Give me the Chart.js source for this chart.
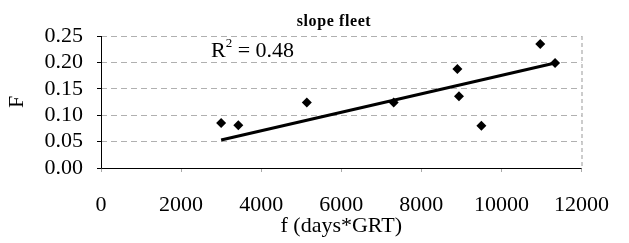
<!DOCTYPE html>
<html>
<head>
<meta charset="utf-8">
<script src="https://cdn.jsdelivr.net/npm/chart.js@4/dist/chart.umd.min.js"></script>
<style>
  html, body { margin: 0; padding: 0; background: #fff; }
  #wrap { width: 629px; height: 243px; }
</style>
</head>
<body>
<div id="wrap"><canvas id="myChart" width="629" height="243"></canvas></div>
<script>
'use strict';

// values
let fleetX = [3000, 3430, 5140, 7310, 8900, 8940, 9500, 10970, 11340];
let fleetF = [0.085, 0.081, 0.124, 0.124, 0.1875, 0.136, 0.080, 0.235, 0.199];
let trendX = [3000, 11340];
let trendF = [0.053, 0.199];
let xTicks = [0, 2000, 4000, 6000, 8000, 10000, 12000];
let yTicks = [0.00, 0.05, 0.10, 0.15, 0.20, 0.25];
let chartTitle = 'slope fleet';
let rSquared = '0.48';

let serif = "'Liberation Serif', 'Times New Roman', serif";

let points = [];
for (let i = 0; i < fleetX.length; i++) {
  points.push({ x: fleetX[i], y: fleetF[i] });
}
let trend = [];
for (let i = 0; i < trendX.length; i++) {
  trend.push({ x: trendX[i], y: trendF[i] });
}

// title, R² label, solid axes and dashed right frame
let extras = {
  id: 'extras',
  afterDraw(chart) {
    let ctx = chart.ctx;
    let area = chart.chartArea;
    ctx.save();
    ctx.strokeStyle = '#999';
    ctx.lineWidth = 1;
    ctx.setLineDash([4, 3]);
    ctx.beginPath();
    ctx.moveTo(area.right + 0.5, area.top);
    ctx.lineTo(area.right + 0.5, area.bottom);
    ctx.stroke();
    ctx.setLineDash([]);
    ctx.strokeStyle = '#000';
    ctx.beginPath();
    ctx.moveTo(area.left + 0.5, area.top);
    ctx.lineTo(area.left + 0.5, area.bottom + 0.5);
    ctx.lineTo(area.right, area.bottom + 0.5);
    ctx.stroke();

    ctx.fillStyle = '#000';
    ctx.textBaseline = 'alphabetic';
    ctx.textAlign = 'center';
    ctx.font = 'bold 16px ' + serif;
    ctx.letterSpacing = '0.6px';
    ctx.fillText(chartTitle, 334, 26);
    ctx.letterSpacing = '0px';

    ctx.textAlign = 'left';
    ctx.font = '22px ' + serif;
    ctx.fillText('R', 211, 57);
    let rw = ctx.measureText('R').width;
    ctx.font = '13px ' + serif;
    ctx.fillText('2', 211 + rw, 47);
    let sw = ctx.measureText('2').width;
    ctx.font = '22px ' + serif;
    ctx.fillText(' = ' + rSquared, 211 + rw + sw, 57);
    ctx.restore();
  }
};

let ctx = document.getElementById('myChart').getContext('2d');

let myChart = new Chart(ctx, {
  type: 'scatter',
  data: {
    datasets: [{
      label: 'trend',
      data: trend,
      showLine: true,
      borderColor: '#000',
      borderWidth: 3,
      pointRadius: 0,
      order: 2
    },
    {
      label: 'slope fleet',
      data: points,
      pointStyle: 'rectRot',
      pointRadius: 5,
      backgroundColor: '#000',
      borderColor: '#000',
      borderWidth: 0,
      order: 1
    }]
  },
  options: {
    responsive: false,
    animation: false,
    layout: { padding: { top: 36, right: 36, left: 0, bottom: 0 } },
    plugins: {
      legend: { display: false },
      tooltip: { enabled: false },
      title: { display: false }
    },
    scales: {
      x: {
        type: 'linear',
        min: 0,
        max: 12000,
        afterBuildTicks: (axis) => { axis.ticks = xTicks.map(v => ({ value: v })); },
        ticks: {
          color: '#000',
          font: { family: serif, size: 22 },
          padding: 20,
          autoSkip: false,
          callback: (v) => String(v),
          maxRotation: 0
        },
        grid: {
          drawOnChartArea: false,
          drawTicks: true,
          tickLength: 4,
          color: '#aaa'
        },
        border: { display: false },
        title: {
          display: true,
          text: 'f (days*GRT)',
          color: '#000',
          font: { family: serif, size: 22 },
          padding: { top: 0, bottom: 4 }
        },
        afterFit: (scale) => { scale.height = 75; }
      },
      y: {
        type: 'linear',
        min: 0,
        max: 0.25,
        afterBuildTicks: (axis) => { axis.ticks = yTicks.map(v => ({ value: v })); },
        ticks: {
          color: '#000',
          font: { family: serif, size: 22 },
          padding: 14,
          autoSkip: false,
          callback: (v) => v.toFixed(2)
        },
        grid: {
          color: '#b0b0b0',
          lineWidth: 1,
          tickLength: 4,
          tickColor: '#000',
          tickBorderDash: []
        },
        border: { display: false, dash: [6, 4] },
        title: {
          display: true,
          text: 'F',
          color: '#000',
          font: { family: serif, size: 22 },
          padding: { top: 4, bottom: 0 }
        },
        afterFit: (scale) => { scale.width = 101; }
      }
    }
  },
  plugins: [extras]
});
</script>
</body>
</html>
